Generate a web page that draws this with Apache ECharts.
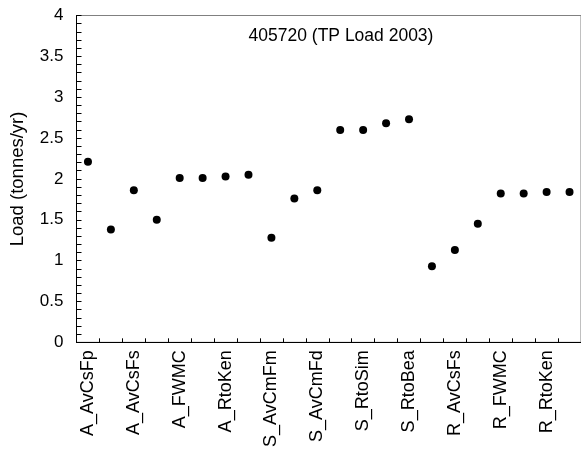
<!DOCTYPE html>
<html>
<head>
<meta charset="utf-8">
<script src="https://cdn.jsdelivr.net/npm/echarts@6/dist/echarts.min.js"></script>
<style>html,body{margin:0;padding:0;background:#fff}#c{width:581px;height:450px}</style>
</head>
<body>
<div id="c"></div>
<script>
var categories = ['A_AvCsFp','A_AvCsFm','A_AvCsFs','A_AvCmFd','A_FWMC','A_RtoSim','A_RtoKen','A_RtoBea',
  'S_AvCmFm','S_AvCmFs','S_AvCmFd','S_FWMC','S_RtoSim','S_RtoKen','S_RtoBea',
  'R_AvCsFm','R_AvCsFs','R_AvCmFd','R_FWMC','R_RtoSim','R_RtoKen','R_RtoBea'];
var loads = [2.21,1.38,1.86,1.50,2.01,2.01,2.03,2.05,
  1.28,1.76,1.86,2.60,2.60,2.68,2.73,
  0.93,1.13,1.45,1.82,1.82,1.84,1.84];
var titleText = '405720 (TP Load 2003)';
var yName = 'Load (tonnes/yr)';

var font = 'Liberation Sans, Arial, sans-serif';
var chart = echarts.init(document.getElementById('c'), null, {renderer:'canvas'});
chart.setOption({
  animation: false,
  backgroundColor: '#fff',
  title: {
    text: titleText, left: 336, top: 22, textAlign: 'center',
    textStyle: {fontFamily: font, fontSize: 17.5, fontWeight: 'normal', color: '#000'}
  },
  grid: {left: 76.5, top: 15.5, width: 511.5, height: 327.5, show: true, borderColor: '#808080', borderWidth: 1, backgroundColor: 'transparent'},
  xAxis: {
    type: 'category', data: categories, boundaryGap: true,
    axisLine: {lineStyle: {color: '#000', width: 1}},
    axisTick: {show: true, inside: true, length: 4, interval: 0, lineStyle: {color: '#000'}},
    axisLabel: {interval: 1, rotate: 90, margin: 8, fontFamily: font, fontSize: 18, color: '#000'},
    splitLine: {show: false}
  },
  yAxis: {
    type: 'value', min: 0, max: 4, interval: 0.5,
    name: yName, nameLocation: 'middle', nameGap: 49,
    nameTextStyle: {fontFamily: font, fontSize: 18.5, color: '#000'},
    axisLine: {show: true, lineStyle: {color: '#000', width: 1}},
    axisTick: {show: true, inside: true, length: 5, lineStyle: {color: '#000'}},
    minorTick: {show: true, splitNumber: 5, length: 5, lineStyle: {color: '#000'}},
    axisLabel: {margin: 13, fontFamily: font, fontSize: 17, color: '#000'},
    splitLine: {show: false}
  },
  series: [{
    type: 'scatter', data: loads, symbol: 'circle', symbolSize: 8,
    itemStyle: {color: '#000', opacity: 1}
  }]
});
</script>
</body>
</html>
